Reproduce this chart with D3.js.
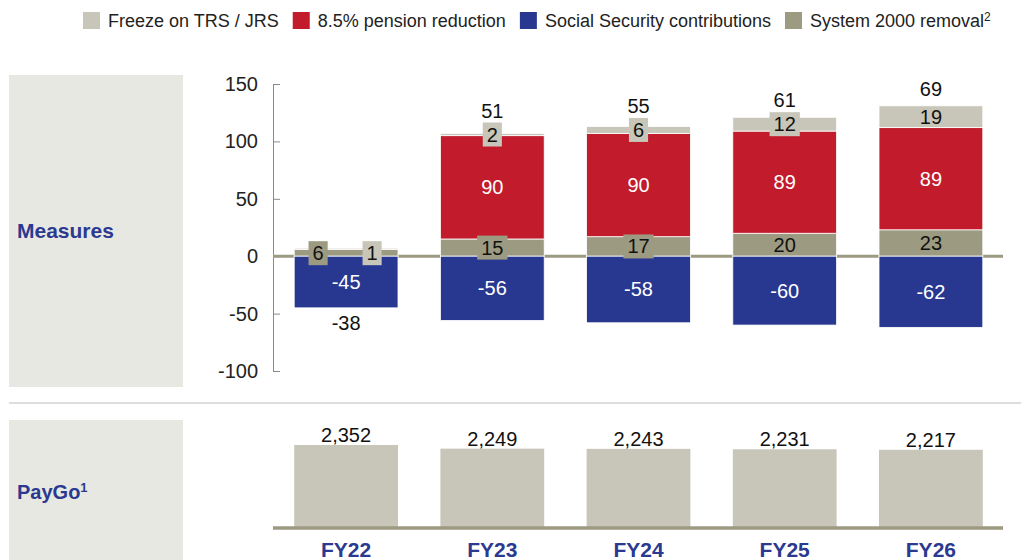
<!DOCTYPE html>
<html>
<head>
<meta charset="utf-8">
<script src="https://cdn.jsdelivr.net/npm/d3@7"></script>
<style>
  html, body { margin: 0; padding: 0; background: #fff; }
  svg { display: block; font-family: "Liberation Sans", Arial, sans-serif; }
</style>
</head>
<body>
<svg id="chart" width="1021" height="560"></svg>
<script>
// Data
const years = ['FY22', 'FY23', 'FY24', 'FY25', 'FY26'];
const system2000 = [6, 15, 17, 20, 23];
const pension = [0, 90, 90, 89, 89];
const freeze = [1, 2, 6, 12, 19];
const socialSecurity = [-45, -56, -58, -60, -62];
const paygo = [2352, 2249, 2243, 2231, 2217];
const yTicks = [-100, -50, 0, 50, 100, 150];

const seriesNames = ['Freeze on TRS / JRS', '8.5% pension reduction', 'Social Security contributions', 'System 2000 removal'];

const C = {
  freeze: '#c8c6b8',
  pension: '#c11b2c',
  social: '#283891',
  system: '#9d9a82',
  panel: '#e8e8e3',
  blue: '#2b3990',
  axis: '#8a8a8a'
};

const svg = d3.select('#chart');

// Legend
const legendItems = [
  { name: seriesNames[0], color: C.freeze },
  { name: seriesNames[1], color: C.pension },
  { name: seriesNames[2], color: C.social },
  { name: seriesNames[3], color: C.system, sup: '2' }
];
let lx = 83;
legendItems.forEach(it => {
  svg.append('rect').attr('x', lx).attr('y', 12).attr('width', 17).attr('height', 17).attr('fill', it.color);
  const t = svg.append('text').attr('x', lx + 25).attr('y', 27)
    .attr('font-size', 18).attr('fill', '#222').text(it.name);
  if (it.sup) t.append('tspan').attr('font-size', 12).attr('dy', -6).text(it.sup);
  lx += 25 + t.node().getComputedTextLength() + 14;
});

// Left panels
svg.append('rect').attr('x', 9).attr('y', 75).attr('width', 174).attr('height', 312).attr('fill', C.panel);
svg.append('rect').attr('x', 9).attr('y', 420).attr('width', 174).attr('height', 140).attr('fill', C.panel);
svg.append('line').attr('x1', 9).attr('x2', 1021).attr('y1', 403).attr('y2', 403)
  .attr('stroke', '#d2d2d2').attr('stroke-width', 1.5);

svg.append('text').attr('x', 17).attr('y', 238).attr('font-size', 21).attr('font-weight', 'bold')
  .attr('fill', C.blue).text('Measures');
const pg = svg.append('text').attr('x', 17).attr('y', 499).attr('font-size', 20).attr('font-weight', 'bold')
  .attr('fill', C.blue).text('PayGo');
pg.append('tspan').attr('font-size', 13).attr('dy', -7).text('1');

// Scales
const x = d3.scaleBand().domain(years).range([273, 1004]).paddingInner(0.29).paddingOuter(0.145);
const y = d3.scaleLinear().domain([-100, 150]).range([371, 84]);

// Y axis
const yAxis = svg.append('g').attr('transform', 'translate(273,0)')
  .call(d3.axisLeft(y).tickValues(yTicks).tickFormat(d => String(d))
    .tickSizeInner(-7).tickSizeOuter(0).tickPadding(15));
yAxis.select('.domain').attr('stroke', C.axis);
yAxis.selectAll('.tick line').attr('stroke', C.axis);
yAxis.selectAll('.tick text').attr('font-size', 20).attr('fill', '#222')
  .attr('font-family', '"Liberation Sans", Arial, sans-serif');

// Zero line
svg.append('line').attr('x1', 273).attr('x2', 1003).attr('y1', y(0)).attr('y2', y(0))
  .attr('stroke', C.system).attr('stroke-width', 3);

// Stacked bars
const bw = x.bandwidth();
years.forEach((yr, i) => {
  const cx = x(yr) + bw / 2;
  const segs = [
    { v: system2000[i], color: C.system, txt: '#111' },
    { v: pension[i], color: C.pension, txt: '#fff' },
    { v: freeze[i], color: C.freeze, txt: '#111' }
  ];
  let base = 0;
  segs.forEach(s => { s.y0 = base; s.y1 = base + s.v; base += s.v; });
  const posTop = base;
  const neg = { v: socialSecurity[i], y0: socialSecurity[i], y1: 0, color: C.social, txt: '#fff' };

  const g = svg.append('g');
  [...segs, neg].filter(s => s.v !== 0).forEach(s => {
    g.append('rect').attr('x', x(yr)).attr('width', bw)
      .attr('y', y(s.y1)).attr('height', y(s.y0) - y(s.y1))
      .attr('fill', s.color).attr('stroke', '#fff').attr('stroke-width', 0.8);
  });

  // labels; small segments get a boxed label
  const labs = [...segs, neg].filter(s => s.v !== 0).map(s => ({
    s, cy: y((s.y0 + s.y1) / 2), cx, boxed: Math.abs(y(s.y0) - y(s.y1)) < 21
  }));
  const boxed = labs.filter(l => l.boxed && l.s.v > 0);
  if (boxed.length > 1 && Math.abs(boxed[0].cy - boxed[1].cy) < 24) {
    const mid = y(posTop / 2) + 1;
    boxed.forEach((l, k) => { l.cx = cx + (k === 0 ? -28 : 26); l.cy = mid; });
  }
  let boxTop = null;
  labs.forEach(l => {
    const t = svg.append('text').attr('x', l.cx).attr('y', l.cy + 7)
      .attr('text-anchor', 'middle').attr('font-size', 20).attr('fill', l.s.txt)
      .text(l.s.v);
    if (l.boxed) {
      const w = t.node().getComputedTextLength() + 8;
      svg.insert('rect', () => t.node()).attr('x', l.cx - w / 2).attr('y', l.cy - 12)
        .attr('width', w).attr('height', 24).attr('fill', l.s.color);
      if (l.s.v > 0) boxTop = boxTop === null ? l.cy - 12 : Math.min(boxTop, l.cy - 12);
    }
  });

  const total = posTop + socialSecurity[i];
  if (total >= 0) {
    const topPx = y(posTop);
    const by = boxTop !== null && boxTop < topPx ? boxTop - 5 : topPx - 10;
    svg.append('text').attr('x', cx).attr('y', by).attr('text-anchor', 'middle')
      .attr('font-size', 20).attr('fill', '#111').text(total);
  } else {
    svg.append('text').attr('x', cx).attr('y', y(socialSecurity[i]) + 22).attr('text-anchor', 'middle')
      .attr('font-size', 20).attr('fill', '#111').text(total);
  }
});

// PayGo bars
const yp = d3.scaleLinear().domain([0, d3.max(paygo)]).range([528, 445]);
svg.selectAll('.paygo').data(paygo).join('rect').attr('class', 'paygo')
  .attr('x', (d, i) => x(years[i])).attr('width', bw)
  .attr('y', d => yp(d)).attr('height', d => yp(0) - yp(d))
  .attr('fill', C.freeze);
svg.selectAll('.paygo-lab').data(paygo).join('text').attr('class', 'paygo-lab')
  .attr('x', (d, i) => x(years[i]) + bw / 2).attr('y', d => yp(d) - 3)
  .attr('text-anchor', 'middle').attr('font-size', 20).attr('fill', '#111')
  .text(d3.format(','));
svg.append('line').attr('x1', 273).attr('x2', 1003).attr('y1', yp(0)).attr('y2', yp(0))
  .attr('stroke', C.system).attr('stroke-width', 3.5);

// Category labels
svg.selectAll('.cat').data(years).join('text').attr('class', 'cat')
  .attr('x', d => x(d) + bw / 2).attr('y', 557)
  .attr('text-anchor', 'middle').attr('font-size', 21).attr('font-weight', 'bold')
  .attr('fill', C.blue).text(d => d);
</script>
</body>
</html>
